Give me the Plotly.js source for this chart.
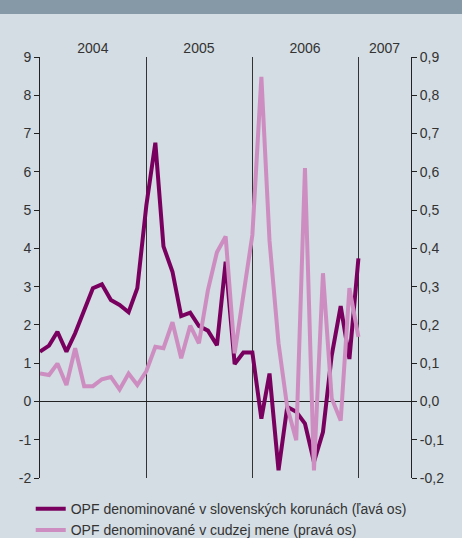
<!DOCTYPE html>
<html><head><meta charset="utf-8">
<script src="https://cdn.plot.ly/plotly-3.0.1.min.js"></script>
<style>html,body{margin:0;padding:0;background:#d3dde3;}</style>
</head><body><div id="chart" style="width:462px;height:538px;"></div>
<script>
// Monthly observations, Jan 2004 .. Jan 2007
const months = [
  '2004-01-01','2004-02-01','2004-03-01','2004-04-01','2004-05-01','2004-06-01',
  '2004-07-01','2004-08-01','2004-09-01','2004-10-01','2004-11-01','2004-12-01',
  '2005-01-01','2005-02-01','2005-03-01','2005-04-01','2005-05-01','2005-06-01',
  '2005-07-01','2005-08-01','2005-09-01','2005-10-01','2005-11-01','2005-12-01',
  '2006-01-01','2006-02-01','2006-03-01','2006-04-01','2006-05-01','2006-06-01',
  '2006-07-01','2006-08-01','2006-09-01','2006-10-01','2006-11-01','2006-12-01',
  '2007-01-01'
];
// OPF denominated in SKK (left axis)
const skk = [
  1.30, 1.46, 1.82, 1.30, 1.78, 2.37, 2.96, 3.06, 2.65, 2.52, 2.33, 2.96,
  5.12, 6.76, 4.05, 3.39, 2.23, 2.32, 1.97, 1.85, 1.47, 3.65, 0.98, 1.28,
  1.28, -0.45, 0.73, -1.80, -0.14, -0.27, -0.58, -1.58, -0.80, 1.20, 2.49, 1.11,
  3.74
];
// OPF denominated in foreign currency (right axis)
const fx = [
  0.073, 0.069, 0.099, 0.043, 0.139, 0.040, 0.040, 0.058, 0.064, 0.031, 0.073, 0.043,
  0.079, 0.143, 0.139, 0.207, 0.113, 0.198, 0.152, 0.291, 0.390, 0.431, 0.126, 0.278,
  0.435, 0.848, 0.420, 0.152, -0.015, -0.101, 0.610, -0.180, 0.335, 0.008, -0.050, 0.296,
  0.169
];
const seriesNames = [
  'OPF denominované v slovenských korunách (ľavá os)',
  'OPF denominované v cudzej mene (pravá os)'
];
const yearLabels = ['2004', '2005', '2006', '2007'];
const yearLabelPos = ['2004-07-01', '2005-07-01', '2006-07-01', '2007-04-01'];
const yearBounds = ['2005-01-01', '2006-01-01', '2007-01-01'];
const xRange = ['2004-01-01', '2007-07-01'];
const leftTickVals = [-2, -1, 0, 1, 2, 3, 4, 5, 6, 7, 8, 9];
const leftTickText = ['-2', '-1', '0', '1', '2', '3', '4', '5', '6', '7', '8', '9'];
const rightTickVals = [-0.2, -0.1, 0, 0.1, 0.2, 0.3, 0.4, 0.5, 0.6, 0.7, 0.8, 0.9];
const rightTickText = ['-0,2', '-0,1', '0,0', '0,1', '0,2', '0,3', '0,4', '0,5', '0,6', '0,7', '0,8', '0,9'];

const traces = [
  {x: months, y: skk, type: 'scatter', mode: 'lines', name: seriesNames[0],
   line: {color: '#7a005f', width: 4}, hoverinfo: 'skip'},
  {x: months, y: fx, type: 'scatter', mode: 'lines', name: seriesNames[1], yaxis: 'y2',
   line: {color: '#cd8dc0', width: 4}, hoverinfo: 'skip'},
  {x: yearLabelPos, y: [null, null, null, null], xaxis: 'x2', type: 'scatter', mode: 'lines',
   showlegend: false, hoverinfo: 'skip'}
];

const layout = {
  width: 462, height: 538,
  paper_bgcolor: '#d3dde3', plot_bgcolor: '#d3dde3',
  margin: {l: 40, r: 51, t: 57, b: 60, pad: 0, autoexpand: false},
  font: {family: 'Liberation Sans, Arial, sans-serif', size: 14, color: '#333'},
  separators: ', ',
  showlegend: true,
  legend: {x: -0.025, y: -0.036, xanchor: 'left', yanchor: 'top', orientation: 'v',
           bgcolor: 'rgba(0,0,0,0)', borderwidth: 0, traceorder: 'normal',
           font: {size: 14, color: '#333'}},
  xaxis: {type: 'date', range: xRange, tickvals: yearBounds, showticklabels: false, ticks: '',
          showgrid: true, gridcolor: '#333', gridwidth: 1, zeroline: false, showline: false, fixedrange: true},
  xaxis2: {type: 'date', overlaying: 'x', side: 'top', anchor: 'y', range: xRange,
           tickvals: yearLabelPos, ticktext: yearLabels, ticks: '', showgrid: false, showline: false,
           zeroline: false, tickfont: {size: 14, color: '#333'}, ticklabelstandoff: 0},
  yaxis: {range: [-2, 9], tickvals: leftTickVals, ticktext: leftTickText, ticks: 'outside', ticklen: 5, tickcolor: '#222',
          showline: true, linecolor: '#222', linewidth: 1, showgrid: false,
          zeroline: true, zerolinecolor: '#222', zerolinewidth: 1, tickfont: {size: 14, color: '#333'}},
  yaxis2: {overlaying: 'y', side: 'right', range: [-0.2, 0.9], tickvals: rightTickVals, ticktext: rightTickText,
           ticks: 'outside', ticklen: 5, tickcolor: '#222', showline: true, linecolor: '#222', linewidth: 1,
           showgrid: false, zeroline: false, tickfont: {size: 14, color: '#333'}},
  shapes: [{type: 'rect', xref: 'paper', yref: 'paper', x0: -0.2, x1: 1.2, y0: 1.1021, y1: 1.2,
            fillcolor: '#8599a7', line: {width: 0}, layer: 'below'}]
};

Plotly.newPlot('chart', traces, layout, {displayModeBar: false, staticPlot: true});
</script>
</body></html>
